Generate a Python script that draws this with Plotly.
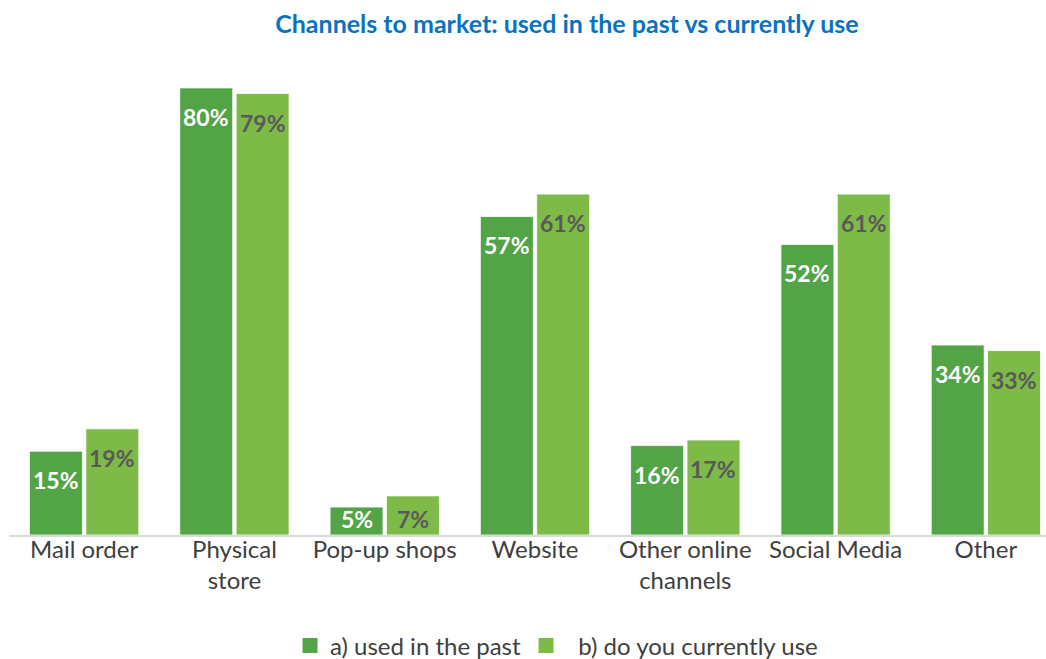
import plotly.graph_objects as go

categories = ["Mail order", "Physical<br>store", "Pop-up shops", "Website",
              "Other online<br>channels", "Social Media", "Other"]
used_in_past = [15, 80, 5, 57, 16, 52, 34]
currently_use = [19, 79, 7, 61, 17, 61, 33]

series_names = ["a) used in the past", "  b) do you currently use"]
bar_colors = ["#52A447", "#7EBA48"]
label_colors = ["#FFFFFF", "#595959"]

FONT = "Lato, 'Open Sans', sans-serif"
PX_PER_UNIT = 5.59  # vertical pixels per percentage point in the plot area

x_idx = list(range(len(categories)))

fig = go.Figure()
for name, vals, col in zip(series_names, [used_in_past, currently_use], bar_colors):
    fig.add_trace(go.Bar(
        x=x_idx, y=vals, name=name, showlegend=False,
        marker=dict(color=col, line=dict(color="#FFFFFF", width=0.8)),
        hoverinfo="skip",
    ))

# legend entries drawn as plain square markers
for name, col in zip(series_names, bar_colors):
    fig.add_trace(go.Scatter(
        x=[None], y=[None], mode="markers", name=name,
        marker=dict(symbol="square", size=15, color=col),
        hoverinfo="skip",
    ))

# value labels placed just below each bar top (kept above the baseline for short bars)
annotations = []
offsets = [-0.5 + 0.25 / 2 + 0.375 / 2, 0.5 - 0.25 / 2 - 0.375 / 2]
for vals, off, tcol in zip([used_in_past, currently_use], offsets, label_colors):
    for i, v in enumerate(vals):
        if v * PX_PER_UNIT - 29 >= 15:
            y, shift = v, -29
        else:
            y, shift = 0, 16
        annotations.append(dict(
            x=i + off, y=y, yshift=shift, xref="x", yref="y",
            text=f"<b>{v}%</b>", showarrow=False, yanchor="middle",
            font=dict(family=FONT, size=23, color=tcol),
        ))

fig.update_layout(
    width=1046, height=659,
    paper_bgcolor="#FFFFFF", plot_bgcolor="#FFFFFF",
    margin=dict(l=9, r=0, t=60, b=124, autoexpand=False),
    barmode="group", bargap=0.25, bargroupgap=0.06,
    title=dict(
        text="<b>Channels to market: used in the past vs currently use</b>",
        x=0.542, xanchor="center", y=0.963, yanchor="middle",
        font=dict(family=FONT, size=25, color="#0A72BE"),
    ),
    xaxis=dict(
        tickmode="array", tickvals=x_idx, ticktext=categories,
        range=[-0.5, 6.4], showgrid=False, zeroline=False,
        showline=True, linecolor="#D9D9D9", linewidth=1.5,
        ticks="", tickfont=dict(family=FONT, size=24, color="#404040"),
        ticklabelstandoff=-8,
        fixedrange=True,
    ),
    yaxis=dict(range=[0, 85], visible=False, fixedrange=True),
    legend=dict(
        orientation="h", x=0.528, xanchor="center",
        yref="container", y=0.02, yanchor="middle",
        font=dict(family=FONT, size=24, color="#404040"),
        itemwidth=30, traceorder="normal",
    ),
    annotations=annotations,
    showlegend=True,
)

fig.write_html("out.html")
